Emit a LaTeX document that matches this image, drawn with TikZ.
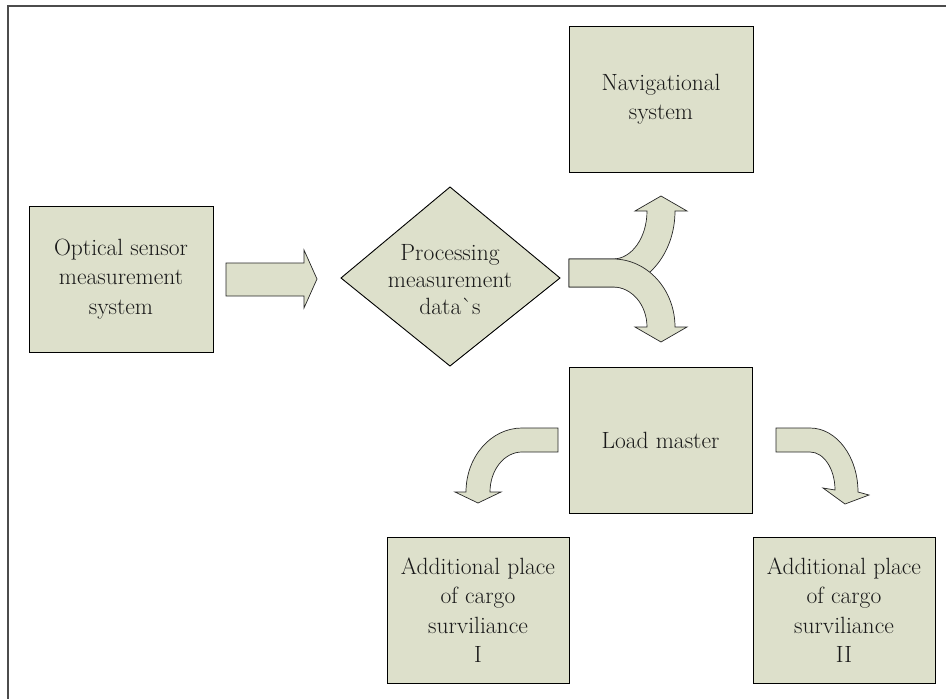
\documentclass[tikz,border=0pt]{standalone}
\usepackage{fontspec}
\definecolor{sage}{RGB}{221,224,203}
\tikzset{
	box/.style={draw=black, fill=sage, line width=0.9pt, minimum width=184pt, minimum height=146pt, inner sep=0pt, align=center, text=black!90, font=\fontsize{23.5}{29.5}\selectfont},
	boxtext/.style={align=center, text=black!90, font=\fontsize{23.5}{27}\selectfont},
	bigarrow/.style={draw=black!85, fill=sage, line width=0.7pt},
	frameline/.style={line width=1.6pt, color=black!70}
}

\begin{document}
\begin{tikzpicture}[x=1pt, y=-1pt]
		%%%%% START %%%%%
		\useasboundingbox (0, 0) rectangle (946, 699);
		
		\draw[frameline] (8, 699) -- (8, 6) -- (946, 6);
		
		\node[box] (opt) at (121, 279) {Optical sensor\\measurement\\system};
		
		\draw[bigarrow] (226, 263) -- (304, 263) -- (304, 250) -- (317, 279) -- (304, 308) -- (304, 296) -- (226, 296) -- cycle;
		
		\draw[line width=0.9pt, fill=sage] (341, 278) -- (450, 187) -- (560, 278) -- (450, 366) -- cycle;
		\node[boxtext] (proc) at (450, 280) {Processing\\measurement\\data\textasciigrave s};
		
		\draw[bigarrow] (569, 259) -- (613, 259) arc[start angle=90, end angle=0, x radius=34, y radius=48] -- (635, 211) -- (661, 196) -- (687, 211) -- (675, 211) arc[start angle=0, end angle=90, x radius=62, y radius=76] -- (569, 287) -- cycle;
		\draw[bigarrow] (569, 259) -- (613, 259) arc[start angle=-90, end angle=0, x radius=62, y radius=68] -- (687, 327) -- (661, 342) -- (635, 327) -- (647, 327) arc[start angle=0, end angle=-90, x radius=34, y radius=40] -- (569, 287) -- cycle;
		
		\node[box] (nav) at (661, 99) {Navigational\\system};
		\node[box, minimum width=183pt] (load) at (660.5, 440) {Load master};
		
		\draw[bigarrow] (558, 428) -- (522, 428) arc[start angle=-90, end angle=-180, x radius=56, y radius=64] -- (455, 492) -- (478, 503) -- (501, 492) -- (490, 492) arc[start angle=180, end angle=270, x radius=32, y radius=40] -- (558, 452) -- cycle;
		\draw[bigarrow] (776, 428) -- (810, 428) arc[start angle=-90, end angle=0, x radius=48, y radius=64] -- (869, 495) -- (845, 504) -- (823, 488) -- (835, 490) arc[start angle=0, end angle=-90, x radius=25, y radius=38] -- (776, 452) -- cycle;
		
		\node[box, minimum width=182pt] (addI) at (478, 610) {Additional place\\of cargo\\surviliance\\I};
		\node[box, minimum width=182pt] (addII) at (844, 610) {Additional place\\of cargo\\surviliance\\II};
		
		%%%%% END %%%%%
	\end{tikzpicture}
\end{document}
